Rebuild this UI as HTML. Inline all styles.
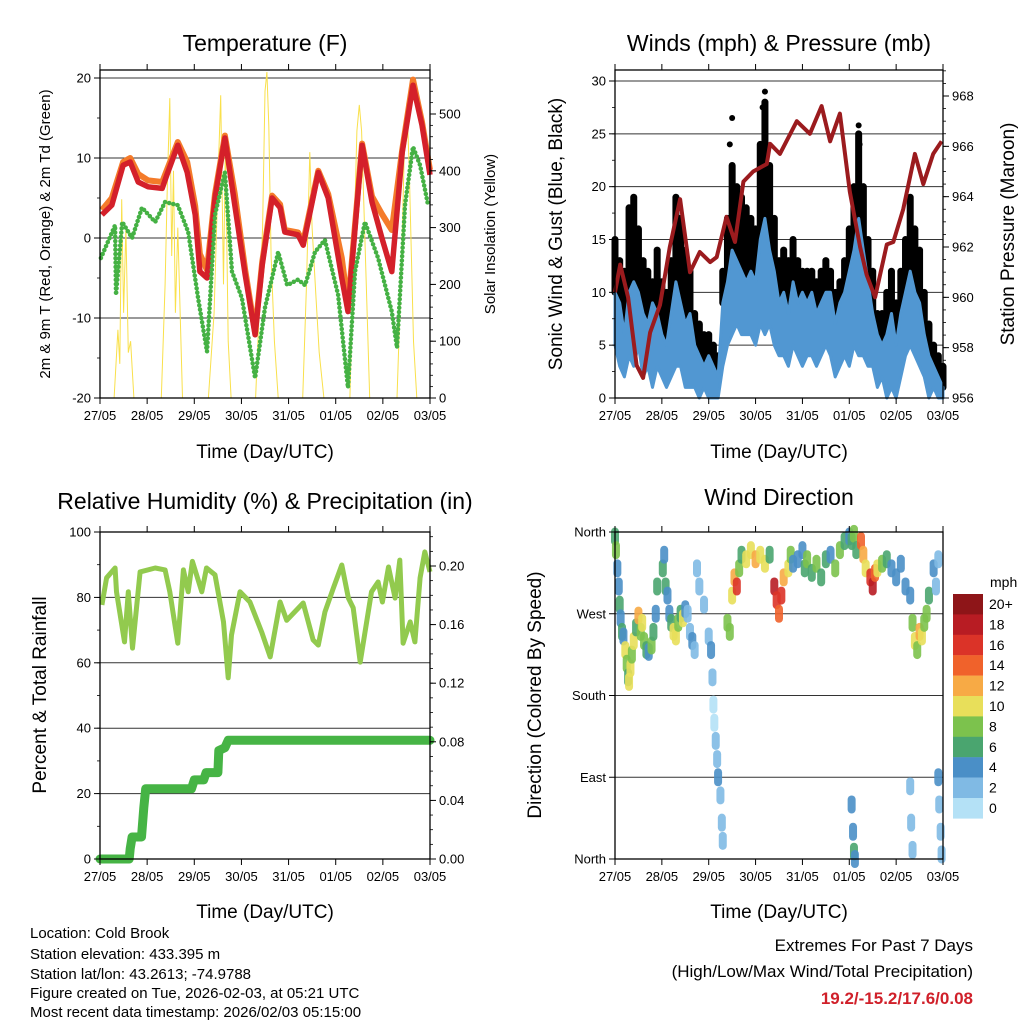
<!DOCTYPE html>
<html><head><meta charset="utf-8"><style>
html,body{margin:0;padding:0;background:#fff}
svg{display:block;font-family:"Liberation Sans",sans-serif}
</style></head><body>
<svg id="s" width="1024" height="1024" viewBox="0 0 1024 1024">
<g id="texts">
<text x="265" y="51" font-size="23" text-anchor="middle">Temperature (F)</text>
<text x="779" y="51" font-size="23" text-anchor="middle">Winds (mph) &amp; Pressure (mb)</text>
<text x="265" y="509" font-size="23" text-anchor="middle">Relative Humidity (%) &amp; Precipitation (in)</text>
<text x="779" y="505" font-size="23" text-anchor="middle">Wind Direction</text>
<text x="265" y="458" font-size="19" text-anchor="middle">Time (Day/UTC)</text>
<text x="779" y="458" font-size="19" text-anchor="middle">Time (Day/UTC)</text>
<text x="265" y="918" font-size="19" text-anchor="middle">Time (Day/UTC)</text>
<text x="779" y="918" font-size="19" text-anchor="middle">Time (Day/UTC)</text>
<text transform="translate(50,234) rotate(-90)" font-size="15" text-anchor="middle">2m &amp; 9m T (Red, Orange) &amp; 2m Td (Green)</text>
<text transform="translate(495,234) rotate(-90)" font-size="15" text-anchor="middle">Solar Insolation (Yellow)</text>
<text transform="translate(562,234) rotate(-90)" font-size="19" text-anchor="middle">Sonic Wind &amp; Gust (Blue, Black)</text>
<text transform="translate(1014,234) rotate(-90)" font-size="19" text-anchor="middle">Station Pressure (Maroon)</text>
<text transform="translate(46,695) rotate(-90)" font-size="19" text-anchor="middle">Percent &amp; Total Rainfall</text>
<text transform="translate(541,695) rotate(-90)" font-size="19" text-anchor="middle">Direction (Colored By Speed)</text>
<g font-size="15">
<text x="30" y="938">Location: Cold Brook</text>
<text x="30" y="959">Station elevation: 433.395 m</text>
<text x="30" y="979">Station lat/lon: 43.2613; -74.9788</text>
<text x="30" y="998">Figure created on Tue, 2026-02-03, at 05:21 UTC</text>
<text x="30" y="1017">Most recent data timestamp: 2026/02/03 05:15:00</text>
</g>
<text x="973" y="951" font-size="17" text-anchor="end">Extremes For Past 7 Days</text>
<text x="973" y="977" font-size="17" text-anchor="end">(High/Low/Max Wind/Total Precipitation)</text>
<text x="973" y="1004" font-size="17" font-weight="bold" fill="#d0202a" text-anchor="end">19.2/-15.2/17.6/0.08</text>
</g>
</svg>
<script>
// ---------- data ----------
const dayLabels=["27/05","28/05","29/05","30/05","31/05","01/05","02/05","03/05"];
const tempT=[0.04,0.25,0.49,0.64,0.81,1.02,1.32,1.42,1.65,1.85,2.02,2.12,2.27,2.44,2.65,2.86,3.08,3.29,3.44,3.65,3.82,3.92,4.2,4.31,4.63,4.84,5.13,5.26,5.56,5.77,5.98,6.19,6.41,6.64,6.83,7.0];
const tempRed=[2.9,4.1,9.1,9.5,7,6.4,6.2,7.9,11.6,8.2,2.9,-4.2,-5,5,12.5,4.1,-4.6,-12.1,-3.4,5,3.8,0.75,0.4,-0.9,8.2,5,-5,-9.2,11.6,4.5,0,-4.2,10.7,19.1,14.1,7.9];
const tempOrange=[3.5,5,9.5,10,8,7.2,7,8.5,12,9.5,4,-2,-4,5.5,12.8,5.5,-4,-11.8,-3,5.3,4.2,1,0.7,-0.5,8.4,5.5,-2.5,-8.5,11.8,5.2,3,1,11,19.8,14.5,8.5];
const dewT=[0.02,0.32,0.34,0.47,0.68,0.89,1.17,1.38,1.65,1.87,2.08,2.27,2.44,2.65,2.8,3.01,3.29,3.5,3.78,3.97,4.2,4.35,4.56,4.77,5.05,5.26,5.41,5.62,5.9,6.19,6.3,6.47,6.64,6.79,6.96];
const dewV=[-2.5,1.6,-7.1,2,0,3.8,2,4.5,4.1,0.75,-7.5,-14.2,2.9,8.2,-4.2,-7.5,-17.5,-8.7,-1.75,-5.9,-5.2,-5.9,-1.75,-0.25,-7.1,-18.7,-4.2,2,-2.5,-9.2,-13.7,4.1,11.4,9.1,4.1];
const solarT=[0,0.3,0.38,0.42,0.46,0.5,0.55,0.6,0.65,0.72,1.3,1.38,1.43,1.48,1.52,1.56,1.6,1.65,1.75,2.3,2.42,2.5,2.56,2.62,2.66,2.72,2.78,3.3,3.45,3.5,3.54,3.58,3.63,3.7,3.78,4.3,4.38,4.45,4.5,4.58,4.65,4.75,5.3,5.38,5.45,5.5,5.55,5.62,5.72,6.3,6.4,6.46,6.51,6.56,6.65,6.72,7];
const solarV=[0,0,120,60,350,150,300,80,100,0,0,200,380,528,250,400,150,300,0,0,150,380,533,200,450,100,0,0,300,540,574,480,250,100,0,0,200,433,300,180,80,0,0,250,470,516,470,280,0,0,250,450,520,400,100,0,0];
const windT=[0,0.1,0.2,0.3,0.4,0.5,0.6,0.7,0.8,0.9,1,1.1,1.2,1.3,1.4,1.5,1.6,1.7,1.8,1.9,2,2.1,2.2,2.3,2.4,2.5,2.6,2.7,2.8,2.9,3,3.1,3.2,3.3,3.4,3.5,3.6,3.7,3.8,3.9,4,4.1,4.2,4.3,4.4,4.5,4.6,4.7,4.8,4.9,5,5.1,5.2,5.3,5.4,5.5,5.6,5.7,5.8,5.9,6,6.1,6.2,6.3,6.4,6.5,6.6,6.7,6.8,6.9,7];
const windLo=[5,3,2,4,3,5,2,3,1,3,2,1,2,3,3,1,1,1,0,1,0,0,0,3,5,6,7,6,6,6,5,7,6,7,5,4,4,3,5,4,3,4,4,3,4,5,4,2,3,4,3,5,4,4,3,3,1,2,0,1,0,2,4,5,4,3,2,0,1,0,0];
const windHi=[10,9,6,10,11,10,8,7,9,8,6,5,8,11,9,7,8,5,4,3,4,3,2,9,11,14,13,12,11,12,11,15,17,14,12,9,10,8,11,9,10,9,10,8,9,10,10,7,9,10,12,14,17,14,11,8,6,5,6,8,5,8,10,12,10,9,6,4,3,2,1];
const gustHi=[15,13,12,18,19,16,13,12,11,14,11,10,13,19,17,14,12,8,7,6,6,5,4,12,17,22,20,19,18,17,16,24,28,22,17,13,14,13,15,13,12,12,12,11,12,13,12,10,11,13,16,20,25,20,15,12,8,8,10,12,9,12,15,19,16,14,10,7,5,4,3];
const gustOutT=[2.45,2.5,3.15,3.2,5.2,5.22];
const gustOutV=[24,26.5,27.5,29,25.8,24];
const presT=[0,0.11,0.28,0.46,0.6,0.75,0.96,1.17,1.39,1.6,1.81,2.03,2.17,2.38,2.56,2.74,2.95,3.24,3.31,3.52,3.88,4.16,4.41,4.59,4.8,5.01,5.23,5.37,5.55,5.8,5.94,6.15,6.4,6.58,6.79,6.97];
const presV=[960.2,961.3,960,957.3,956.8,958.6,959.7,962,963.9,961,961.8,961.4,961.6,963.2,962.2,964.6,965,965.3,966.1,965.7,967,966.5,967.6,966.2,967.3,964.2,962,960.9,960,962.1,962.2,963.5,965.7,964.5,965.7,966.2];
const rhT=[0.04,0.14,0.32,0.35,0.52,0.6,0.69,0.85,1.17,1.38,1.48,1.65,1.77,1.87,1.96,2.16,2.26,2.44,2.62,2.72,2.79,2.97,3.18,3.43,3.61,3.82,3.96,4.31,4.52,4.63,4.77,4.95,5.13,5.27,5.37,5.52,5.76,5.9,5.99,6.12,6.26,6.36,6.43,6.58,6.68,6.79,6.89,7.0];
const rhV=[77.7,86,89,81.7,66.4,81.7,64.5,87.8,89,88.4,81.7,66,88.4,81.7,91,81.7,89,86.9,72.5,55.4,68.5,81.7,78.6,69.4,61.8,78.6,73,78.3,67,65.4,75.5,82.9,89.9,79.8,76.8,60.2,81.7,84.7,78.6,89.3,79.8,91.4,66,72.5,66.4,86,93.9,87.8];
const rainT=[0,0.62,0.64,0.68,0.88,0.93,0.97,1.94,2.0,2.2,2.25,2.5,2.52,2.65,2.72,7];
const rainV=[0,0,0.007,0.015,0.015,0.035,0.048,0.048,0.054,0.054,0.059,0.059,0.074,0.076,0.081,0.081];
const wdDay=[0,0.02,0.05,0.08,0.1,0.12,0.15,0.18,0.22,0.25,0.28,0.3,0.33,0.36,0.4,0.45,0.5,0.55,0.58,0.62,0.67,0.72,0.78,0.82,0.87,0.9,1.02,1.05,1.08,1.12,1.16,1.2,1.25,1.3,1.35,1.4,1.45,1.5,1.55,1.6,1.65,1.7,1.75,1.8,1.9,2.0,2.05,2.08,2.1,2.12,2.15,2.18,2.2,2.25,2.28,2.3,2.4,2.45,2.5,2.55,2.6,2.65,2.7,2.8,2.9,3.0,3.1,3.2,3.3,3.4,3.45,3.5,3.55,3.6,3.7,3.75,3.8,3.9,4.0,4.05,4.1,4.2,4.3,4.4,4.5,4.6,4.7,4.8,4.9,5.0,5.05,5.1,5.15,5.05,5.08,5.1,5.12,5.25,5.3,5.35,5.45,5.5,5.55,5.6,5.7,5.8,5.9,6.0,6.1,6.2,6.3,6.35,6.4,6.45,6.5,6.55,6.6,6.65,6.7,6.8,6.85,6.9,6.3,6.32,6.35,6.9,6.92,6.95,6.97];
const wdDir=[355,340,320,300,280,265,250,245,230,215,200,195,210,225,240,255,268,250,260,240,230,228,235,250,270,300,320,335,300,290,270,260,250,245,260,270,265,275,270,250,240,230,320,300,280,245,230,200,170,150,130,110,90,70,40,20,260,250,290,310,300,320,335,330,340,330,335,325,335,300,285,270,290,310,320,335,325,330,340,320,330,315,325,310,330,335,320,340,350,355,350,358,340,60,30,8,0,350,335,320,310,300,315,320,325,330,320,310,325,300,290,260,240,230,250,245,260,270,290,320,300,330,80,40,10,90,60,30,5];
const wdSpd=[7,8,4,4,6,4,6,4,10,8,6,10,10,8,10,6,12,8,10,8,6,4,8,6,4,6,6,4,6,4,4,6,10,10,8,6,10,4,2,2,4,2,2,2,2,2,4,2,0,0,2,2,4,2,2,2,8,8,10,12,16,8,6,10,10,12,10,10,6,18,16,14,16,12,10,8,4,4,4,6,8,6,8,6,6,4,8,8,6,4,6,8,6,4,4,6,4,14,12,10,16,18,14,10,8,6,4,4,4,4,4,8,10,8,12,10,8,8,6,4,2,2,2,2,2,4,2,2,2];
const cbLabels=["20+","18","16","14","12","10","8","6","4","2","0"];
const cbColors=["#8e1518","#b81c23","#db3328","#f0622b","#f7aa45","#e8df5a","#7cc24d","#4aa56f","#4a8fc7","#80bae4","#b4e1f6"];
// ---------- drawing ----------
const NS="http://www.w3.org/2000/svg";
const svg=document.getElementById('s');
function el(tag,attrs,parent){const e=document.createElementNS(NS,tag);for(const k in attrs)e.setAttribute(k,attrs[k]);(parent||svg).appendChild(e);return e;}
function lin(d0,d1,r0,r1){return v=>r0+(v-d0)/(d1-d0)*(r1-r0);}
function frame(name){
  const g=el('g',{});
  
  
  return g;
}
function xTicks(g,x0,x1,y0,y1){
  const xs=lin(0,7,x0,x1);
  for(let i=0;i<8;i++){const x=xs(i);
    el('line',{x1:x,x2:x,y1:y1,y2:y1+6,stroke:'#000','stroke-width':1},g);
    el('line',{x1:x,x2:x,y1:y0,y2:y0-6,stroke:'#000','stroke-width':1},g);
    const t=el('text',{x:x,y:y1+22,'font-size':13,'text-anchor':'middle'},g);t.textContent=dayLabels[i];
    
    
  }
}
function yTicks(g,side,x,vals,ys,labels,minors){
  const dir=side==='l'?-1:1;
  minors.forEach(v=>el('line',{x1:x,x2:x+dir*3,y1:ys(v),y2:ys(v),stroke:'#000','stroke-width':0.8},g));
  vals.forEach((v,i)=>{const y=ys(v);
    el('line',{x1:x,x2:x+dir*6,y1:y,y2:y,stroke:'#000','stroke-width':1},g);
    const t=el('text',{x:x+dir*9,y:y+4.5,'font-size':13,'text-anchor':side==='l'?'end':'start'},g);t.textContent=labels[i];
    
    
  });
}
function grid(g,x0,x1,ys,vals,col){vals.forEach(v=>el('line',{x1:x0,x2:x1,y1:ys(v),y2:ys(v),stroke:col||'#222','stroke-width':1},g));}
function box(g,x0,x1,y0,y1){el('rect',{x:x0,y:y0,width:x1-x0,height:y1-y0,fill:'none',stroke:'#000','stroke-width':1.3},g);}
function path(xs,ys,T,V){return T.map((t,i)=>(i?'L':'M')+xs(t).toFixed(1)+','+ys(V[i]).toFixed(1)).join('');}
function range(a,b,s){const r=[];for(let v=a;v<=b+1e-9;v+=s)r.push(+v.toFixed(4));return r;}

// Panel 1 temperature
(function(){
  const x0=100,x1=430,y0=70,y1=398;
  const xs=lin(0,7,x0,x1), ys=lin(-20,20,398,78), ss=lin(0,500,398,114);
  const g=frame('temperature');
  grid(g,x0,x1,ys,[-20,-10,0,10,20],'#333');
  const sp=el('path',{d:path(xs,ss,solarT,solarV),fill:'none',stroke:'#f9e04b','stroke-width':1},g);
  
  
  const op=el('path',{d:path(xs,ys,tempT,tempOrange),fill:'none',stroke:'#f47b2a','stroke-width':6,'stroke-linejoin':'round'},g);
  
  
  const rp=el('path',{d:path(xs,ys,tempT,tempRed),fill:'none',stroke:'#d4202a','stroke-width':5.5,'stroke-linejoin':'round'},g);
  
  
  const dp=el('path',{d:path(xs,ys,dewT,dewV),fill:'none',stroke:'#45b144','stroke-width':4.5,'stroke-linecap':'round','stroke-dasharray':'0.1 4.2','stroke-linejoin':'round'},g);
  
  
  box(g,x0,x1,y0,y1);
  xTicks(g,x0,x1,y0,y1);
  yTicks(g,'l',x0,[-20,-10,0,10,20],ys,['-20','-10','0','10','20'],range(-20,20,5));
  yTicks(g,'r',x1,[0,100,200,300,400,500],ss,['0','100','200','300','400','500'],range(0,560,20));
})();

// Panel 2 winds
(function(){
  const x0=615,x1=943,y0=70,y1=398;
  const xs=lin(0,7,x0,x1), ys=lin(0,30,398,81), ps=lin(956,968,398,96);
  const g=frame('winds');
  grid(g,x0,x1,ys,[5,10,15,20,25,30],'#333');
  windT.forEach((t,i)=>{
    const b=el('line',{x1:xs(t),x2:xs(t),y1:ys(windHi[i]),y2:ys(gustHi[i]),stroke:'#000','stroke-width':7,'stroke-linecap':'round'},g);
    
    
  });
  const up=windT.map((t,i)=>xs(t).toFixed(1)+','+ys(windHi[i]).toFixed(1));
  const dn=windT.map((t,i)=>xs(t).toFixed(1)+','+ys(windLo[i]).toFixed(1)).reverse();
  const band=el('polygon',{points:up.concat(dn).join(' '),fill:'#5197d2',stroke:'#5197d2','stroke-width':3,'stroke-linejoin':'round'},g);
  
  
  gustOutT.forEach((t,i)=>{const c=el('circle',{cx:xs(t),cy:ys(gustOutV[i]),r:3,fill:'#000'},g);
    
    });
  const pp=el('path',{d:path(xs,ps,presT,presV),fill:'none',stroke:'#9b1b1e','stroke-width':4,'stroke-linejoin':'round'},g);
  
  
  box(g,x0,x1,y0,y1);
  xTicks(g,x0,x1,y0,y1);
  yTicks(g,'l',x0,[0,5,10,15,20,25,30],ys,['0','5','10','15','20','25','30'],range(0,31,2.5));
  yTicks(g,'r',x1,[956,958,960,962,964,966,968],ps,['956','958','960','962','964','966','968'],range(956,969,0.5));
})();

// Panel 3 RH
(function(){
  const x0=100,x1=430,y0=532,y1=859;
  const xs=lin(0,7,x0,x1), ys=lin(0,100,859,532), rs=lin(0,0.2,859,566);
  const g=frame('humidity');
  grid(g,x0,x1,ys,[20,40,60,80],'#333');
  const hp=el('path',{d:path(xs,ys,rhT,rhV),fill:'none',stroke:'#92ca4e','stroke-width':5,'stroke-linejoin':'round'},g);
  
  
  const rp=el('path',{d:path(xs,rs,rainT,rainV),fill:'none',stroke:'#46b445','stroke-width':9,'stroke-linecap':'round','stroke-linejoin':'round'},g);
  
  
  box(g,x0,x1,y0,y1);
  xTicks(g,x0,x1,y0,y1);
  yTicks(g,'l',x0,[0,20,40,60,80,100],ys,['0','20','40','60','80','100'],range(0,100,10));
  yTicks(g,'r',x1,[0,0.04,0.08,0.12,0.16,0.2],rs,['0.00','0.04','0.08','0.12','0.16','0.20'],range(0,0.22,0.01));
})();

// Panel 4 direction
(function(){
  const x0=615,x1=943,y0=532,y1=859;
  const xs=lin(0,7,x0,x1), ys=lin(0,360,859,532);
  const g=frame('direction');
  grid(g,x0,x1,ys,[90,180,270],'#333');
  wdDay.forEach((t,i)=>{
    const k=Math.min(10,Math.floor(wdSpd[i]/2));
    const c=el('line',{x1:xs(t),x2:xs(t),y1:ys(wdDir[i])-5,y2:ys(wdDir[i])+5,stroke:cbColors[10-k],'stroke-width':8,'stroke-linecap':'round','stroke-opacity':0.9},g);
    
    
  });
  box(g,x0,x1,y0,y1);
  xTicks(g,x0,x1,y0,y1);
  yTicks(g,'l',x0,[0,90,180,270,360],ys,['North','East','South','West','North'],[]);
  const cb=el('g',{},g);
  
  
  const t=el('text',{x:990,y:587,'font-size':14,'text-anchor':'start'},cb);t.textContent='mph';
  cbColors.forEach((c,i)=>{
    el('rect',{x:953,y:594+i*20.4,width:30,height:20.6,fill:c},cb);
    const l=el('text',{x:989,y:609+i*20.4,'font-size':14},cb);l.textContent=cbLabels[i];
    
    
  });
})();
</script>
</body></html>
